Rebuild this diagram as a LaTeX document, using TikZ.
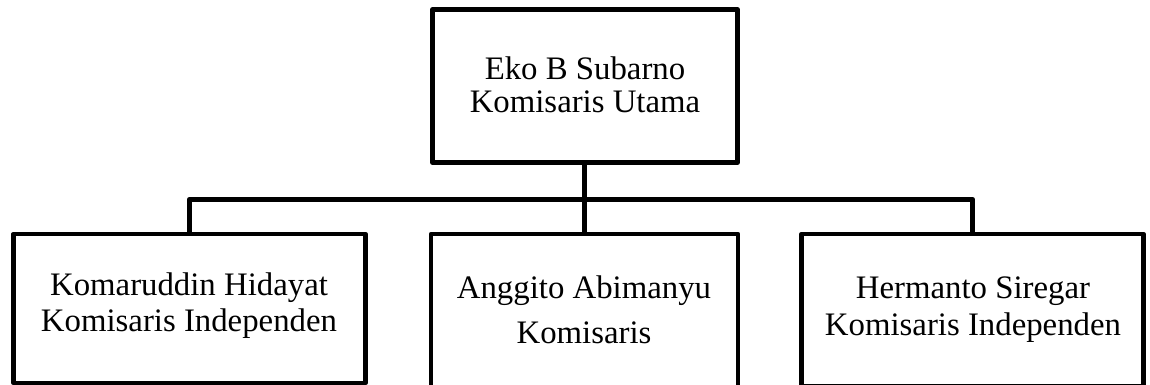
\documentclass[tikz,border=0pt]{standalone}
\usepackage{fontspec}
\setmainfont{Liberation Serif}
\begin{document}
\begin{tikzpicture}[x=1pt,y=-1pt,
  box/.style={draw=black,line width=4.8pt,line join=round,rectangle,inner sep=0pt,fill=white},
  conn/.style={draw=black,line width=4.8pt,line join=round},
  txt/.style={inner sep=0pt,anchor=base,font=\fontsize{32.8}{36}\selectfont}]
\useasboundingbox (0,0) rectangle (1150,385);
\clip (0,0) rectangle (1150,385);
% boxes
\node[box,minimum width=305pt,minimum height=153pt] (top) at (585,86) {};
\node[box,minimum width=352pt,minimum height=149pt] (left) at (189.5,308.5) {};
\node[box,minimum width=307pt,minimum height=158pt] (mid) at (584.5,313) {};
\node[box,minimum width=342pt,minimum height=152pt] (right) at (972.5,310) {};
% connectors
\draw[conn] (top.south -| mid.north) -- (mid.north);
\draw[conn] (left.north) -- ++(0,-32.5) coordinate (busL) -| (right.north);
% texts
\node[txt] (t1) at (585,80) {Eko B Subarno};
\node[txt] (t2) at (585,112.7) {Komisaris Utama};
\node[txt] (l1) at (189,295) {Komaruddin Hidayat};
\node[txt] (l2) at (189,331.7) {Komisaris Independen};
\node[txt] (m1) at (584,298) {Anggito Abimanyu};
\node[txt] (m2) at (584,343) {Komisaris};
\node[txt] (r1) at (973,298.3) {Hermanto Siregar};
\node[txt] (r2) at (973,335) {Komisaris Independen};
\end{tikzpicture}
\end{document}
